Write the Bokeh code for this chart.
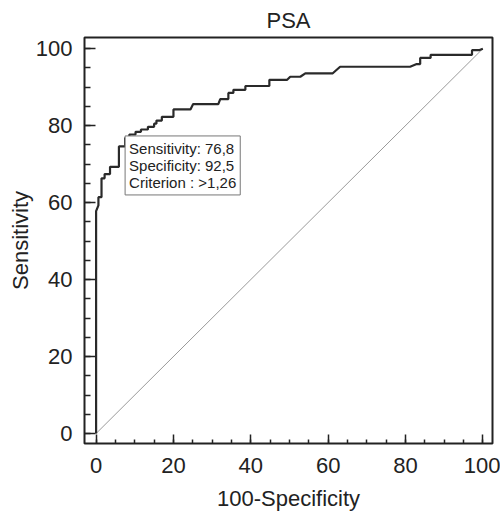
from bokeh.plotting import figure
from bokeh.models import Range1d, FixedTicker, Label
from bokeh.embed import file_html
from bokeh.resources import INLINE

# ROC curve vertices: 100-Specificity (x) and Sensitivity (y)
roc_x = [0, 0, 0.6, 0.6, 1.4, 1.4, 2.2, 2.2, 3.6, 3.6, 5.9, 5.9, 7.5, 7.5,
         8.6, 8.6, 10.2, 10.2, 11.6, 11.6, 13.4, 13.4, 15.0, 15.0, 15.6, 15.6,
         17.0, 17.0, 20.0, 20.0, 24.4, 25.1, 31.6, 32.1, 34.2, 34.2, 35.5, 35.5,
         38.6, 38.6, 44.8, 44.8, 49.4, 50.2, 52.8, 54.1, 61.2, 63.1, 81.2, 82.9,
         83.8, 83.8, 86.5, 86.5, 97.2, 97.2, 99.0, 100]
roc_y = [0, 57.8, 59.3, 61.4, 61.4, 66.3, 66.3, 67.4, 67.4, 69.3, 69.3, 74.6, 74.6, 76.8,
         76.8, 77.7, 77.7, 78.4, 78.4, 79.0, 79.0, 79.7, 79.7, 80.5, 80.5, 81.3,
         81.3, 82.3, 82.3, 84.2, 84.2, 85.6, 85.6, 86.9, 86.9, 88.5, 88.5, 89.3,
         89.3, 90.3, 90.3, 91.9, 91.9, 92.7, 92.7, 93.6, 93.6, 95.3, 95.3, 96.0,
         96.0, 97.6, 97.6, 98.4, 98.4, 99.6, 99.6, 100]

diag_x = [0, 100]
diag_y = [0, 100]

cut_x = 7.5
cut_y = 76.8
box_lines = ["Sensitivity: 76,8", "Specificity: 92,5", "Criterion : >1,26"]

major = [0, 20, 40, 60, 80, 100]
minor = list(range(0, 101, 5))

FONT = "Liberation Sans"
DARK = "#222222"

p = figure(width=500, height=514, output_backend="svg", toolbar_location=None,
           x_range=Range1d(-3.0, 102.5), y_range=Range1d(-2.6, 102.9),
           title="PSA", min_border_left=84, min_border_right=8,
           min_border_top=37, min_border_bottom=71)

p.title.align = "center"
p.title.text_font = FONT
p.title.text_font_size = "22px"
p.title.text_font_style = "normal"
p.title.text_color = DARK
p.title.offset = 0
p.title.standoff = 10

p.outline_line_color = DARK
p.outline_line_width = 2
p.grid.visible = False
p.background_fill_color = "white"
p.border_fill_color = "white"

for ax, lab in ((p.xaxis[0], "100-Specificity"), (p.yaxis[0], "Sensitivity")):
    ax.axis_label = lab
    ax.axis_label_text_font = FONT
    ax.axis_label_text_font_size = "22px"
    ax.axis_label_text_font_style = "normal"
    ax.axis_label_text_color = DARK
    ax.major_label_text_font = FONT
    ax.major_label_text_font_size = "22px"
    ax.major_label_text_color = DARK
    ax.ticker = FixedTicker(ticks=major, minor_ticks=minor)
    ax.axis_line_color = None
    ax.major_tick_line_color = DARK
    ax.minor_tick_line_color = DARK
    ax.major_tick_line_width = 1.5
    ax.minor_tick_line_width = 1.5
    ax.major_tick_out = 0
    ax.minor_tick_out = 0

p.xaxis.major_tick_in = 9
p.xaxis.minor_tick_in = 4
p.yaxis.major_tick_in = 11
p.yaxis.minor_tick_in = 6
p.xaxis.major_label_standoff = 14
p.yaxis.major_label_standoff = 12
p.xaxis.axis_label_standoff = 10
p.yaxis.axis_label_standoff = 0

p.line(diag_x, diag_y, line_color="#9a9a9a", line_width=1)
p.line(roc_x, roc_y, line_color="#2a2a2a", line_width=2.2)

lbl = Label(x=cut_x, y=cut_y, x_units="data", y_units="data",
            text="\n".join(box_lines), text_align="left", text_baseline="top",
            text_font=FONT, text_font_size="15px", text_line_height=1.0,
            text_color=DARK, background_fill_color="white",
            border_line_color="#777777", border_line_width=1, padding=4,
            y_offset=2)
p.add_layout(lbl)

open("out.html", "w").write(file_html(p, INLINE))
